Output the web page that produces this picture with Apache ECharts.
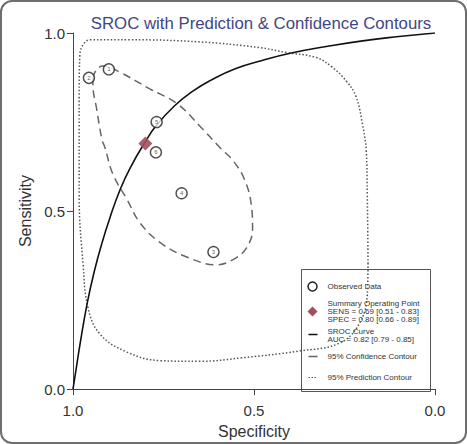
<!DOCTYPE html>
<html>
<head>
<meta charset="utf-8">
<script src="https://cdn.jsdelivr.net/npm/echarts@6/dist/echarts.min.js"></script>
<style>
  html, body { margin: 0; padding: 0; background: #fff; }
  #frame {
    position: absolute; left: 0; top: 0; width: 467px; height: 444px;
    box-sizing: border-box; border: 2px solid #6e6e6e; border-radius: 12px; overflow: hidden;
  }
  #chart { position: absolute; left: -2px; top: -2px; width: 467px; height: 444px; }
</style>
</head>
<body>
<div id="frame"><div id="chart"></div></div>
<script>
// observed studies (specificity, sensitivity)
const studyLabels = ["1", "2", "3", "4", "5", "6"];
const studySpec = [0.901, 0.956, 0.612, 0.700, 0.769, 0.771];
const studySens = [0.898, 0.874, 0.385, 0.550, 0.750, 0.665];

// summary operating point
const summarySpec = 0.80;
const summarySens = 0.69;

// SROC curve
const srocSpec = [1.0, 0.99, 0.98, 0.96, 0.94, 0.92, 0.90, 0.87, 0.84, 0.80, 0.77, 0.72, 0.67, 0.62, 0.55, 0.48, 0.40, 0.30, 0.20, 0.10, 0.0];
const srocSens = [0.0, 0.065, 0.13, 0.245, 0.335, 0.41, 0.475, 0.56, 0.625, 0.695, 0.74, 0.795, 0.836, 0.867, 0.90, 0.922, 0.943, 0.962, 0.978, 0.99, 1.0];

// 95% confidence contour
const confSpec = [0.945, 0.945, 0.934, 0.920, 0.912, 0.890, 0.851, 0.815, 0.760, 0.686, 0.603, 0.559, 0.521, 0.504, 0.507, 0.526, 0.559, 0.595, 0.650, 0.713, 0.788, 0.871, 0.917, 0.934, 0.945];
const confSens = [0.876, 0.857, 0.783, 0.701, 0.679, 0.604, 0.533, 0.467, 0.412, 0.371, 0.349, 0.363, 0.396, 0.451, 0.514, 0.588, 0.643, 0.679, 0.739, 0.802, 0.843, 0.890, 0.907, 0.898, 0.876];

// 95% prediction contour
const predSpec = [0.185, 0.187, 0.209, 0.264, 0.375, 0.532, 0.650, 0.760, 0.851, 0.926, 0.959, 0.972, 0.983, 0.983, 0.981, 0.972, 0.953, 0.843, 0.650, 0.485, 0.410, 0.328, 0.284, 0.245, 0.218, 0.201, 0.190, 0.187, 0.185];
const predSens = [0.354, 0.266, 0.184, 0.129, 0.107, 0.088, 0.078, 0.080, 0.104, 0.155, 0.231, 0.349, 0.541, 0.816, 0.940, 0.967, 0.981, 0.981, 0.975, 0.959, 0.945, 0.931, 0.904, 0.865, 0.821, 0.747, 0.670, 0.541, 0.354];

const axisTicks = [0, 0.5, 1];

const pairs = (xs, ys) => xs.map((x, i) => [x, ys[i]]);

const chart = echarts.init(document.getElementById("chart"), null, { renderer: "svg" });

const fontFamily = "Liberation Sans, Arial, sans-serif";
const legendText = { fill: "#333", fontSize: 8, fontFamily };
const tickFormatter = (v) => axisTicks.includes(v) ? v.toFixed(1) : "";

chart.setOption({
  animation: false,
  title: {
    text: "SROC with Prediction & Confidence Contours",
    left: 256, top: 10, textAlign: "center",
    textStyle: { color: "#3f4784", fontSize: 16.8, fontWeight: "normal", fontFamily },
  },
  grid: { left: 73, right: 32, top: 33, bottom: 47 },
  xAxis: {
    type: "value", min: 0, max: 1, interval: 0.5, inverse: true,
    name: "Specificity", nameLocation: "middle", nameGap: 32,
    nameTextStyle: { color: "#333", fontSize: 16, fontFamily },
    axisLine: { show: true, onZero: false, lineStyle: { color: "#444", width: 1 } },
    axisTick: { show: true, length: 6, lineStyle: { color: "#444" } },
    axisLabel: { color: "#333", fontSize: 15, fontFamily, margin: 14, formatter: tickFormatter },
    splitLine: { show: false },
  },
  yAxis: {
    type: "value", min: 0, max: 1, interval: 0.5,
    name: "Sensitivity", nameLocation: "middle", nameGap: 40,
    nameTextStyle: { color: "#333", fontSize: 16, fontFamily },
    axisLine: { show: true, onZero: false, lineStyle: { color: "#444", width: 1 } },
    axisTick: { show: true, length: 6, lineStyle: { color: "#444" } },
    axisLabel: { color: "#333", fontSize: 15, fontFamily, margin: 8, formatter: tickFormatter },
    splitLine: { show: false },
  },
  series: [
    {
      name: "95% Prediction Contour", type: "line", smooth: 0.4, symbol: "none",
      data: pairs(predSpec, predSens),
      lineStyle: { color: "#555", width: 1.5, type: [1.5, 2] },
      z: 2,
    },
    {
      name: "95% Confidence Contour", type: "line", smooth: 0.4, symbol: "none",
      data: pairs(confSpec, confSens),
      lineStyle: { color: "#666", width: 1.5, type: [8, 5] },
      z: 2,
    },
    {
      name: "SROC Curve", type: "line", smooth: 0.5, symbol: "none",
      data: pairs(srocSpec, srocSens),
      lineStyle: { color: "#111", width: 1.6 },
      z: 3,
    },
    {
      name: "Summary Operating Point", type: "scatter", symbol: "diamond", symbolSize: 14,
      data: [[summarySpec, summarySens]],
      itemStyle: { color: "#a24f5c", opacity: 0.9 },
      z: 4,
    },
    {
      name: "Observed Data", type: "scatter", symbol: "circle", symbolSize: 11,
      data: studySpec.map((s, i) => ({ value: [s, studySens[i]], name: studyLabels[i] })),
      itemStyle: { color: "#fff", borderColor: "#222", borderWidth: 1.4 },
      label: { show: true, position: "inside", formatter: (p) => p.name,
        fontSize: 6, color: "#333", fontFamily },
      z: 5,
    },
  ],
  graphic: [
    {
      type: "group", left: 301, top: 269,
      children: [
        { type: "rect", shape: { x: 0, y: 0, width: 129, height: 122 },
          style: { fill: "#fff", stroke: "#555", lineWidth: 1 } },
        { type: "circle", shape: { cx: 11, cy: 17, r: 4.5 },
          style: { fill: "#fff", stroke: "#222", lineWidth: 1.5 } },
        { type: "text", x: 26, y: 17, style: Object.assign({ text: "Observed Data", verticalAlign: "middle" }, legendText) },
        { type: "polygon", shape: { points: [[11, 37], [16, 42], [11, 47], [6, 42]] },
          style: { fill: "#a24f5c" } },
        { type: "text", x: 26, y: 34, style: Object.assign({ text: "Summary Operating Point", verticalAlign: "middle" }, legendText) },
        { type: "text", x: 26, y: 42, style: Object.assign({ text: "SENS = 0.69 [0.51 - 0.83]", verticalAlign: "middle" }, legendText) },
        { type: "text", x: 26, y: 50, style: Object.assign({ text: "SPEC = 0.80 [0.66 - 0.89]", verticalAlign: "middle" }, legendText) },
        { type: "line", shape: { x1: 7, y1: 65, x2: 16, y2: 65 },
          style: { stroke: "#111", lineWidth: 1.6 } },
        { type: "text", x: 26, y: 62, style: Object.assign({ text: "SROC Curve", verticalAlign: "middle" }, legendText) },
        { type: "text", x: 26, y: 70, style: Object.assign({ text: "AUC = 0.82 [0.79 - 0.85]", verticalAlign: "middle" }, legendText) },
        { type: "line", shape: { x1: 7, y1: 87, x2: 16, y2: 87 },
          style: { stroke: "#666", lineWidth: 1.4 } },
        { type: "text", x: 26, y: 87, style: Object.assign({ text: "95% Confidence Contour", verticalAlign: "middle" }, legendText) },
        { type: "line", shape: { x1: 7, y1: 108, x2: 16, y2: 108 },
          style: { stroke: "#555", lineWidth: 1.2, lineDash: [1.5, 1.5] } },
        { type: "text", x: 26, y: 108, style: Object.assign({ text: "95% Prediction Contour", verticalAlign: "middle" }, legendText) },
      ],
    },
  ],
});
</script>
</body>
</html>
